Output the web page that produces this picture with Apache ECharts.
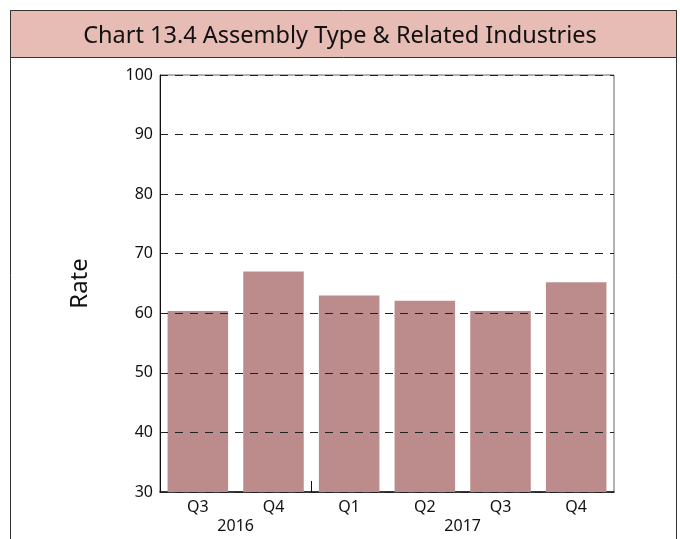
<!DOCTYPE html>
<html><head><meta charset="utf-8">
<script src="https://cdn.jsdelivr.net/npm/echarts@6/dist/echarts.min.js"></script>
<style>html,body{margin:0;padding:0;background:#fff}#c{width:680px;height:539px}</style>
</head><body><div id="c"></div>
<script>
var titleText = "Chart 13.4 Assembly Type & Related Industries";
var quarters = ["Q3","Q4","Q1","Q2","Q3","Q4"];
var rates = [60.4, 67.0, 63.0, 62.1, 60.4, 65.2];
var years = ["2016","2017"];
var yearCenters = [1, 4];
var yearBreaks = [2];
var yAxisName = "Rate";

var chart = echarts.init(document.getElementById('c'), null, {renderer:'canvas'});
var font = "Noto Sans";
chart.setOption({
  animation:false,
  graphic:[
    {type:'rect', shape:{x:10.5,y:10.5,width:666,height:560}, style:{fill:'#fff',stroke:'#333',lineWidth:1}, z:-10},
    {type:'rect', shape:{x:10.5,y:10.5,width:666,height:47}, style:{fill:'#e6bcb4',stroke:'#333',lineWidth:1}, z:-9}
  ],
  title:{text:titleText, left:'center', top:19, textStyle:{fontFamily:font,fontSize:23.5,fontWeight:'normal',color:'#111'}},
  grid:{left:160,right:66,top:75,bottom:47,show:true,borderColor:'#666',borderWidth:1,backgroundColor:'transparent'},
  xAxis:[{
    type:'category', data:quarters, position:'bottom',
    axisLine:{lineStyle:{color:'#111',width:1.5}},
    axisTick:{inside:true,length:5,alignWithLabel:false,lineStyle:{color:'#111'}},
    axisLabel:{fontFamily:font,fontSize:16,color:'#111',margin:7}
  },{
    type:'value', min:0, max:6, position:'bottom',
    axisLine:{show:false},
    splitLine:{show:false},
    axisTick:{show:true,inside:true,length:11,customValues:yearBreaks,lineStyle:{color:'#111'}},
    axisLabel:{show:true,customValues:yearCenters,fontFamily:font,fontSize:16,color:'#111',margin:26,
      formatter:function(v){var i=yearCenters.indexOf(v);return i>=0?years[i]:'';}}
  }],
  yAxis:{
    type:'value', min:30, max:100, interval:10, z:5,
    name:yAxisName, nameLocation:'middle', nameGap:68, nameRotate:90,
    nameTextStyle:{fontFamily:font,fontSize:24,color:'#111'},
    axisLine:{show:true,lineStyle:{color:'#111',width:1}},
    axisTick:{show:false},
    axisLabel:{fontFamily:font,fontSize:16,color:'#111',margin:7},
    splitLine:{show:true,lineStyle:{color:'#222',type:[8,7],width:1}}
  },
  series:[{
    type:'bar', data:rates, xAxisIndex:0, barCategoryGap:'20%',
    itemStyle:{color:'#bc8c8c'}, z:2
  }]
});
</script></body></html>
